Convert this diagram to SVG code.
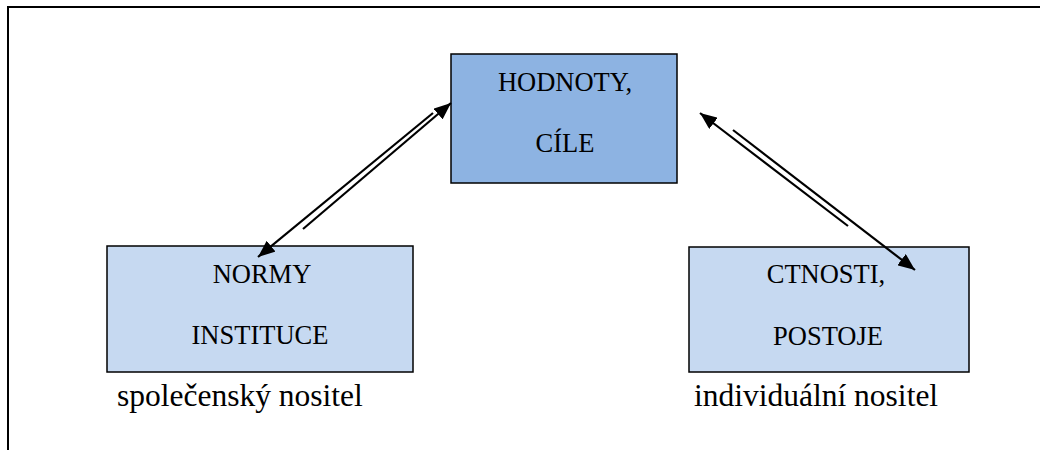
<svg xmlns="http://www.w3.org/2000/svg" width="1040" height="450" viewBox="0 0 1040 450">
  <defs>
    <marker id="arrow" markerUnits="userSpaceOnUse" markerWidth="18" markerHeight="14" refX="17" refY="7" orient="auto">
      <path d="M0,0 L17,7 L0,14 Z" fill="#000"/>
    </marker>
    <style>
      .frame { stroke: #000; stroke-width: 2; fill: none; }
      .box { stroke: #000; stroke-width: 1.5; }
      .dark { fill: #8DB3E2; }
      .light { fill: #C6D9F1; }
      text { font-family: 'Liberation Serif', 'Times New Roman', serif; fill: #000; }
      .t { font-size: 26.5px; text-anchor: middle; }
      .lbl { font-size: 31.5px; }
      .conn { stroke: #000; stroke-width: 2.2; fill: none; }
    </style>
  </defs>
  <rect width="1040" height="450" fill="#fff"/>
  <path class="frame" d="M8,450 L8,7 L1040,7"/>

  <g id="hodnoty">
    <rect class="box dark" x="451" y="54" width="226" height="129"/>
    <text class="t" x="565" y="91">HODNOTY,</text>
    <text class="t" x="565" y="152">CÍLE</text>
  </g>
  <g id="normy">
    <rect class="box light" x="107" y="246" width="306" height="126"/>
    <text class="t" x="262" y="283">NORMY</text>
    <text class="t" x="260" y="344">INSTITUCE</text>
  </g>
  <g id="ctnosti">
    <rect class="box light" x="689" y="247" width="280" height="125"/>
    <text class="t" x="826" y="283">CTNOSTI,</text>
    <text class="t" x="828" y="345">POSTOJE</text>
  </g>
  <g id="label-spolecensky">
    <text class="lbl" x="117" y="406">společenský nositel</text>
  </g>
  <g id="label-individualni">
    <text class="lbl" x="694" y="406">individuální nositel</text>
  </g>

  <g id="connectors">
    <line class="conn" x1="433" y1="113" x2="258" y2="257" marker-end="url(#arrow)"/>
    <line class="conn" x1="303" y1="229" x2="451" y2="103" marker-end="url(#arrow)"/>
    <line class="conn" x1="848" y1="226" x2="700" y2="113" marker-end="url(#arrow)"/>
    <line class="conn" x1="733" y1="130" x2="915" y2="270" marker-end="url(#arrow)"/>
  </g>
</svg>
